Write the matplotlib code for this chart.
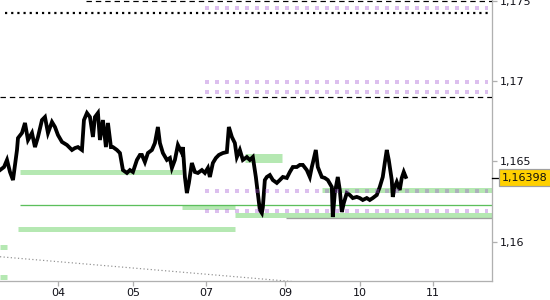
import matplotlib
matplotlib.use('Agg')
import matplotlib.pyplot as plt
import matplotlib.transforms as mtransforms

# bar index (time steps) and price of the traced close line
bars = [0, 4, 7, 10, 13, 17, 18, 22, 25, 28, 32, 35, 38, 42, 45, 48, 52, 55, 58, 62,
        67, 72, 75, 78, 82, 84, 87, 90, 93, 95, 98, 100, 103, 106, 108, 111, 113, 117, 120, 123,
        127, 130, 133, 137, 140, 142, 145, 148, 152, 155, 158, 160, 163, 167, 170, 172, 175, 178, 182, 183,
        185, 187, 189, 192, 195, 198, 202, 205, 208, 210, 213, 216, 219, 223, 227, 229, 232, 235, 237, 240,
        243, 247, 250, 253, 256, 258, 260, 262, 263, 265, 267, 270, 273, 277, 280, 283, 287, 290, 293, 297,
        300, 303, 307, 310, 312, 313, 316, 318, 322, 325, 328, 332, 333, 335, 338, 340, 342, 344, 347, 350,
        353, 357, 360, 363, 367, 370, 373, 377, 380, 383, 385, 387, 389, 392, 393, 395, 397, 400, 402, 404,
        406]
close = [1.16446, 1.16465, 1.16509, 1.16434, 1.16384, 1.16571, 1.16645, 1.16677, 1.16739, 1.16633,
         1.16677, 1.16589, 1.16652, 1.16757, 1.16776, 1.16677, 1.16745, 1.16714, 1.16664, 1.16621,
         1.16602, 1.16571, 1.16583, 1.16589, 1.16571, 1.16757, 1.16801, 1.16776, 1.16652, 1.16776,
         1.16801, 1.16633, 1.16757, 1.16589, 1.16739, 1.16589, 1.16589, 1.16571, 1.16552, 1.16446,
         1.16428, 1.16446, 1.16434, 1.16509, 1.16540, 1.16540, 1.16496, 1.16552, 1.16571, 1.16614,
         1.16714, 1.16614, 1.16552, 1.16509, 1.16521, 1.16459, 1.16509, 1.16602, 1.16552, 1.16589,
         1.16403, 1.16303, 1.16366, 1.16490, 1.16434, 1.16428, 1.16446, 1.16428, 1.16459, 1.16403,
         1.16490, 1.16521, 1.16540, 1.16552, 1.16558, 1.16714, 1.16652, 1.16614, 1.16527, 1.16571,
         1.16509, 1.16527, 1.16509, 1.16527, 1.16403, 1.16303, 1.16198, 1.16179, 1.16216, 1.16384,
         1.16403, 1.16415, 1.16384, 1.16366, 1.16384, 1.16403, 1.16397, 1.16434, 1.16465, 1.16465,
         1.16478, 1.16478, 1.16446, 1.16403, 1.16465, 1.16490, 1.16571, 1.16465, 1.16403, 1.16397,
         1.16384, 1.16341, 1.16154, 1.16303, 1.16403, 1.16322, 1.16185, 1.16241, 1.16303, 1.16291,
         1.16272, 1.16279, 1.16272, 1.16260, 1.16272, 1.16260, 1.16272, 1.16291, 1.16341, 1.16403,
         1.16490, 1.16571, 1.16509, 1.16384, 1.16279, 1.16341, 1.16372, 1.16322, 1.16397, 1.16434,
         1.16403]
last_price = 1.16398

day_ticks = [58, 133, 206, 285, 360, 433]
day_labels = ['04', '05', '07', '09', '10', '11']
price_ticks = [1.16, 1.165, 1.17, 1.175]
price_labels = ['1,16', '1,165', '1,17', '1,175']

# levels as (price, from bar, to bar)
green_zones = [(1.16437, 20, 182), (1.16080, 18, 235), (1.16219, 182, 235),
               (1.16166, 235, 492), (1.16322, 322, 492), (1.15965, 0, 7), (1.15784, 0, 7)]
wide_zone = (1.16524, 245, 282)
purple_levels = [(1.17456, 205, 488), (1.16994, 205, 488), (1.16932, 205, 488),
                 (1.16318, 205, 488), (1.16191, 205, 488)]
dashed_levels = [(1.17498, 86, 492), (1.16901, 0, 492)]
dotted_level = (1.17423, 5, 488)
pivot_level = (1.16229, 20, 492)
gray_level = (1.16146, 286, 492)
trend_bars = [0, 275, 400]
trend_price = [1.15907, 1.15762, 1.15696]

fig = plt.figure(figsize=(5.5, 3.0), dpi=100)
ax = fig.add_axes([0, 0.0633, 0.894, 0.9367])
px = 0.72  # one pixel in points

for p, a, b in green_zones:
    ax.hlines(p, a, b, color='#b5e8b2', lw=5 * px, zorder=1)
ax.hlines(wide_zone[0], wide_zone[1], wide_zone[2], color='#b5e8b2', lw=9 * px, zorder=1)

ax.hlines(pivot_level[0], pivot_level[1], pivot_level[2], color='#5cbf5c', lw=1.3 * px, zorder=2)
ax.hlines(gray_level[0], gray_level[1], gray_level[2], color='#a0a0a0', lw=1.3 * px, zorder=2)
ax.plot(trend_bars, trend_price, color='#909090', lw=1.2 * px, ls=(0, (1, 2)), zorder=2)

for p, a, b in dashed_levels:
    ax.plot([a, b], [p, p], color='black', lw=1.2 * px, ls=(0, (4.5, 3.3)), zorder=3)
ax.plot([dotted_level[1], dotted_level[2]], [dotted_level[0]] * 2, color='black',
        lw=2.2 * px, ls=(0, (1, 1.8)), zorder=3)

ax.plot(bars, close, color='black', lw=3.8 * px, zorder=4, solid_joinstyle='miter')

for p, a, b in purple_levels:
    ax.plot([a, b], [p, p], color='#a050d0', alpha=0.36, lw=4 * px,
            ls=(0, (1, 1.5)), solid_capstyle='butt', dash_capstyle='butt', zorder=5)

ax.set_xlim(0, 492)
ax.set_ylim(1.15756, 1.175038)

for s in ['top', 'left']:
    ax.spines[s].set_visible(False)
for s in ['right', 'bottom']:
    ax.spines[s].set_color('#b0b0b0')
    ax.spines[s].set_linewidth(1.3 * px)

ax.yaxis.tick_right()
ax.set_yticks(price_ticks)
ax.set_yticklabels(price_labels)
ax.set_xticks(day_ticks)
ax.set_xticklabels(day_labels)
ax.tick_params(axis='both', colors='#b0b0b0', labelcolor='#101018', labelsize=8,
               length=5 * px, width=1.3 * px)
ax.tick_params(axis='y', pad=3.5 * px)
ax.tick_params(axis='x', pad=2 * px)

# current price marker on the axis
trans = mtransforms.blended_transform_factory(ax.transAxes, ax.transData)
ax.plot([1.0, 1.012], [last_price, last_price], color='black', lw=1.3 * px,
        transform=trans, clip_on=False, zorder=6)
ax.text(1.021, last_price, f'{last_price:.5f}'.replace('.', ','), transform=trans,
        ha='left', va='center', fontsize=8, color='#101010', zorder=7,
        bbox=dict(boxstyle='square,pad=0.3', fc='#ffd000', ec='#a0a0a0', lw=1.2 * px))

fig.savefig('out.png', dpi=100)
